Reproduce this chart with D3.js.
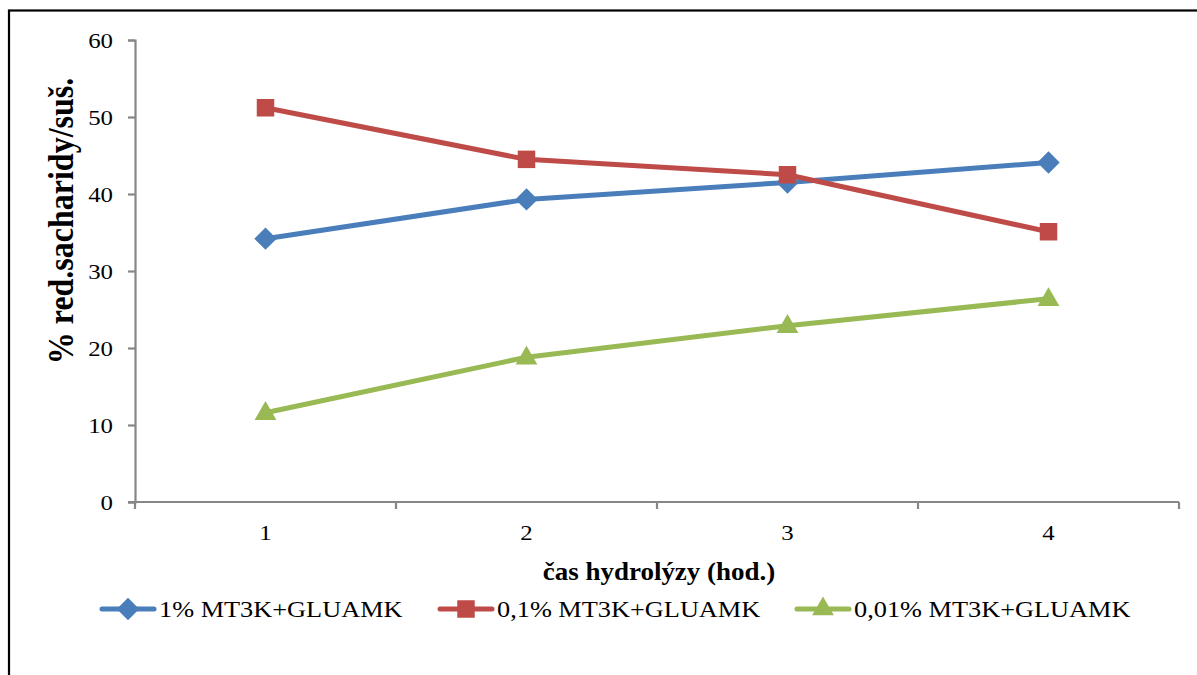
<!DOCTYPE html>
<html>
<head>
<meta charset="utf-8">
<script src="https://cdn.jsdelivr.net/npm/d3@7"></script>
<style>
  html, body { margin: 0; padding: 0; background: #fff; }
  svg { display: block; }
  text { font-family: "Liberation Serif", "Times New Roman", serif; fill: #000; }
</style>
</head>
<body>
<svg id="chart" width="1197" height="675"></svg>
<script>
// Hydrolysis time (hours)
const categories = [1, 2, 3, 4];
const yTicks = [0, 10, 20, 30, 40, 50, 60];

// % reducing saccharides per dry matter
const series1 = [34.2, 39.3, 41.5, 44.1];   // 1% MT3K+GLUAMK
const series2 = [51.2, 44.5, 42.5, 35.1];   // 0,1% MT3K+GLUAMK
const series3 = [11.6, 18.8, 22.9, 26.4];   // 0,01% MT3K+GLUAMK
const seriesNames = ["1% MT3K+GLUAMK", "0,1% MT3K+GLUAMK", "0,01% MT3K+GLUAMK"];

const xTitle = "čas hydrolýzy (hod.)";
const yTitle = "% red.sacharidy/suš.";

const colors = ["#4A7EBB", "#BE4B48", "#98B954"];
const shapes = [d3.symbolDiamond2, d3.symbolSquare2, d3.symbolTriangle2];
const symSizes = [320, 390, 340];

// text is drawn slightly wide, as in the original figure
const stretch = 1.13;

const svg = d3.select("#chart");

function label(parent, x, y, str, opts) {
  const o = Object.assign({ size: 22, weight: "normal", anchor: "start", k: stretch, rotate: 0 }, opts || {});
  return parent.append("text")
    .attr("transform", `translate(${x},${y}) scale(${o.k},1)` + (o.rotate ? ` rotate(${o.rotate})` : ""))
    .attr("text-anchor", o.anchor)
    .style("font-size", o.size + "px")
    .style("font-weight", o.weight)
    .text(str);
}

// outer frame
svg.append("rect")
  .attr("x", 9).attr("y", 10.5)
  .attr("width", 1200).attr("height", 700)
  .attr("fill", "none").attr("stroke", "#000").attr("stroke-width", 2.2);

const plot = { left: 135, right: 1179, top: 40, bottom: 502 };

const x = d3.scaleBand().domain(categories).range([plot.left, plot.right]);
const y = d3.scaleLinear().domain([0, 60]).range([plot.bottom, plot.top]);

const axisColor = "#878787";

// y axis
const yAxis = svg.append("g")
  .attr("transform", `translate(${plot.left},0)`)
  .call(d3.axisLeft(y).tickValues(yTicks).tickSize(7).tickFormat(""));
yAxis.select(".domain").attr("stroke", axisColor).attr("stroke-width", 2.2);
yAxis.selectAll(".tick line").attr("stroke", axisColor).attr("stroke-width", 2.2);
yTicks.forEach(v => label(svg, 113, y(v) + 7.5, String(v), { anchor: "end" }));

// x axis: boundary ticks between categories
const xAxisG = svg.append("g").attr("transform", `translate(0,${plot.bottom})`);
xAxisG.append("line")
  .attr("x1", plot.left - 7).attr("x2", plot.right)
  .attr("stroke", axisColor).attr("stroke-width", 2.2);
const boundaries = categories.map(c => x(c)).concat([x(categories[categories.length - 1]) + x.bandwidth()]);
xAxisG.selectAll("line.btick").data(boundaries).enter().append("line")
  .attr("class", "btick")
  .attr("x1", d => d).attr("x2", d => d)
  .attr("y1", 0).attr("y2", 7)
  .attr("stroke", axisColor).attr("stroke-width", 2.2);
categories.forEach(c => label(svg, x(c) + x.bandwidth() / 2, plot.bottom + 38, String(c), { anchor: "middle" }));

// axis titles
label(svg, 659, 580, xTitle, { size: 25, weight: "bold", anchor: "middle", k: 1.08 });
label(svg, 73, 221, yTitle, { size: 32, weight: "bold", anchor: "middle", rotate: -90 });

// series
const cx = d => x(d) + x.bandwidth() / 2;
const line = d3.line().x(d => cx(d.c)).y(d => y(d.v));

[series1, series2, series3].forEach((vals, i) => {
  const pts = categories.map((c, j) => ({ c, v: vals[j] }));
  svg.append("path")
    .datum(pts)
    .attr("d", line)
    .attr("fill", "none")
    .attr("stroke", colors[i])
    .attr("stroke-width", 5)
    .attr("stroke-linejoin", "round")
    .attr("stroke-linecap", "round");
  svg.append("g").selectAll("path").data(pts).enter().append("path")
    .attr("d", d3.symbol().type(shapes[i]).size(symSizes[i]))
    .attr("transform", d => `translate(${cx(d.c)},${y(d.v) + (i === 2 ? 1 : 0)})`)
    .attr("fill", colors[i]);
});

// legend
const legendX = [100, 438, 795];
const ly = 609;
seriesNames.forEach((name, i) => {
  const x0 = legendX[i];
  const g = svg.append("g");
  g.append("line")
    .attr("x1", x0 + 2).attr("x2", x0 + 54)
    .attr("y1", ly).attr("y2", ly)
    .attr("stroke", colors[i]).attr("stroke-width", 5)
    .attr("stroke-linecap", "round");
  g.append("path")
    .attr("d", d3.symbol().type(shapes[i]).size(symSizes[i]))
    .attr("transform", `translate(${x0 + 28},${ly})`)
    .attr("fill", colors[i]);
  label(g, x0 + 59, ly + 7.5, name, { size: 22.5, k: 1.17 });
});
</script>
</body>
</html>
